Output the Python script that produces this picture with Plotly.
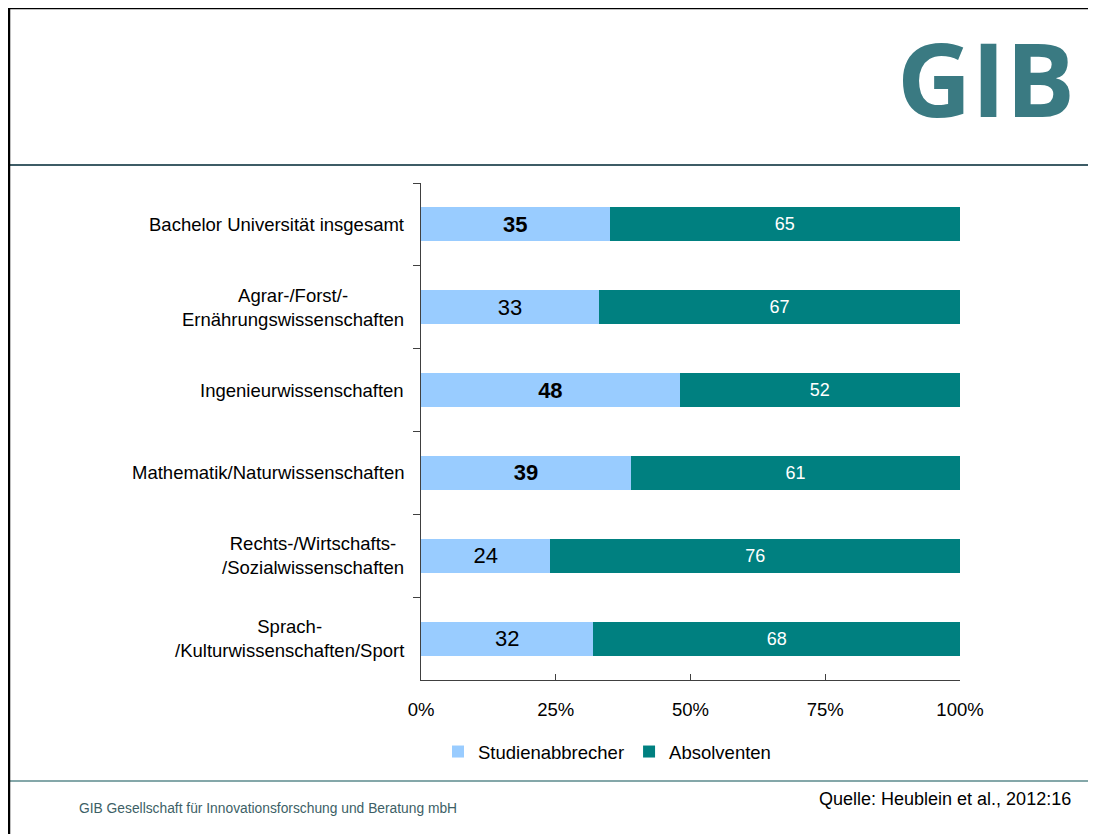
import plotly.graph_objects as go

categories = [
    "Bachelor Universität insgesamt",
    "Agrar-/Forst/-<br>Ernährungswissenschaften",
    "Ingenieurwissenschaften",
    "Mathematik/Naturwissenschaften",
    "Rechts-/Wirtschafts-<br>/Sozialwissenschaften",
    "Sprach-<br>/Kulturwissenschaften/Sport",
]
studienabbrecher = [35, 33, 48, 39, 24, 32]
absolventen = [65, 67, 52, 61, 76, 68]
bold_flags = [True, False, True, True, False, False]
tick_vals = [0, 25, 50, 75, 100]
tick_text = ["0%", "25%", "50%", "75%", "100%"]

W, H = 1096, 834
OFF = 8  # page body margin
L, R, T, B = 421 - OFF, 960 - OFF, 183 - OFF, 680 - OFF


def px(x):
    return (x - OFF - L) / (R - L)


def py(y):
    return (B - (y - OFF)) / (B - T)


FONT = "Liberation Sans, Arial, sans-serif"

fig = go.Figure()
fig.add_trace(go.Bar(
    y=categories, x=studienabbrecher, orientation="h", name="Studienabbrecher",
    marker=dict(color="#99CCFF", line=dict(width=0)),
    text=[f"<b>{v}</b>" if b else str(v) for v, b in zip(studienabbrecher, bold_flags)],
    textposition="inside", insidetextanchor="middle", textangle=0,
    textfont=dict(family=FONT, size=22, color="#000000"),
    constraintext="none", hoverinfo="skip",
))
fig.add_trace(go.Bar(
    y=categories, x=absolventen, orientation="h", name="Absolventen",
    marker=dict(color="#008080", line=dict(width=0)),
    text=[str(v) for v in absolventen],
    textposition="inside", insidetextanchor="middle", textangle=0,
    textfont=dict(family=FONT, size=18, color="#FFFFFF"),
    constraintext="none", hoverinfo="skip",
))

annotations = []
for c in categories:
    annotations.append(dict(
        x=px(406), xref="paper", y=c, yref="y", xanchor="right", yanchor="middle",
        text=c, showarrow=False, align="center",
        font=dict(family=FONT, size=18.5, color="#000000"),
    ))
annotations.append(dict(
    x=px(986), xref="paper", y=py(77), yref="paper", xanchor="center", yanchor="middle",
    text="<b>GIB</b>", showarrow=False,
    font=dict(family="Open Sans, sans-serif", size=103, color="#3A7A82"),
))
annotations.append(dict(
    x=px(77), xref="paper", y=py(808), yref="paper", xanchor="left", yanchor="middle",
    text="GIB Gesellschaft für Innovationsforschung und Beratung mbH", showarrow=False,
    font=dict(family=FONT, size=13.8, color="#3D5F66"),
))
annotations.append(dict(
    x=px(1073), xref="paper", y=py(799), yref="paper", xanchor="right", yanchor="middle",
    text="Quelle: Heublein et al., 2012:16", showarrow=False,
    font=dict(family=FONT, size=18, color="#000000"),
))

shapes = [
    dict(type="line", xref="paper", yref="paper", x0=px(8), x1=px(1110), y0=py(165), y1=py(165),
         line=dict(color="#3D5C66", width=2)),
    dict(type="line", xref="paper", yref="paper", x0=px(8), x1=px(1110), y0=py(781), y1=py(781),
         line=dict(color="#5B8A8C", width=1.5)),
    dict(type="line", xref="paper", yref="paper", x0=px(9), x1=px(9), y0=py(7), y1=py(850),
         line=dict(color="#000000", width=2.5)),
    dict(type="line", xref="paper", yref="paper", x0=px(8), x1=px(1110), y0=py(8), y1=py(8),
         line=dict(color="#000000", width=2.5)),
]

fig.update_layout(
    width=W, height=H, autosize=False,
    margin=dict(l=L, r=W - R, t=T, b=H - B, pad=0),
    paper_bgcolor="white", plot_bgcolor="white",
    barmode="stack", bargap=0.59,
    showlegend=True,
    legend=dict(orientation="h", x=px(607), xanchor="center", y=py(752), yanchor="middle",
                font=dict(family=FONT, size=18.5, color="#000000"), traceorder="normal",
                itemwidth=30, bgcolor="rgba(0,0,0,0)"),
    xaxis=dict(range=[0, 100], tickvals=tick_vals, ticktext=tick_text, ticks="inside",
               ticklen=6, tickcolor="#404040", showline=True, linecolor="#404040", linewidth=1,
               ticklabelstandoff=13,
               showgrid=False, zeroline=False, tickfont=dict(family=FONT, size=18.5, color="#000000"),
               fixedrange=True),
    yaxis=dict(autorange="reversed", type="category", tickson="boundaries", ticks="outside",
               ticklen=7, tickcolor="#404040", showline=True, linecolor="#404040", linewidth=1,
               showticklabels=False, showgrid=False, zeroline=False, fixedrange=True),
    annotations=annotations, shapes=shapes,
    font=dict(family=FONT),
)

fig.write_html("out.html", config={"displayModeBar": False})
